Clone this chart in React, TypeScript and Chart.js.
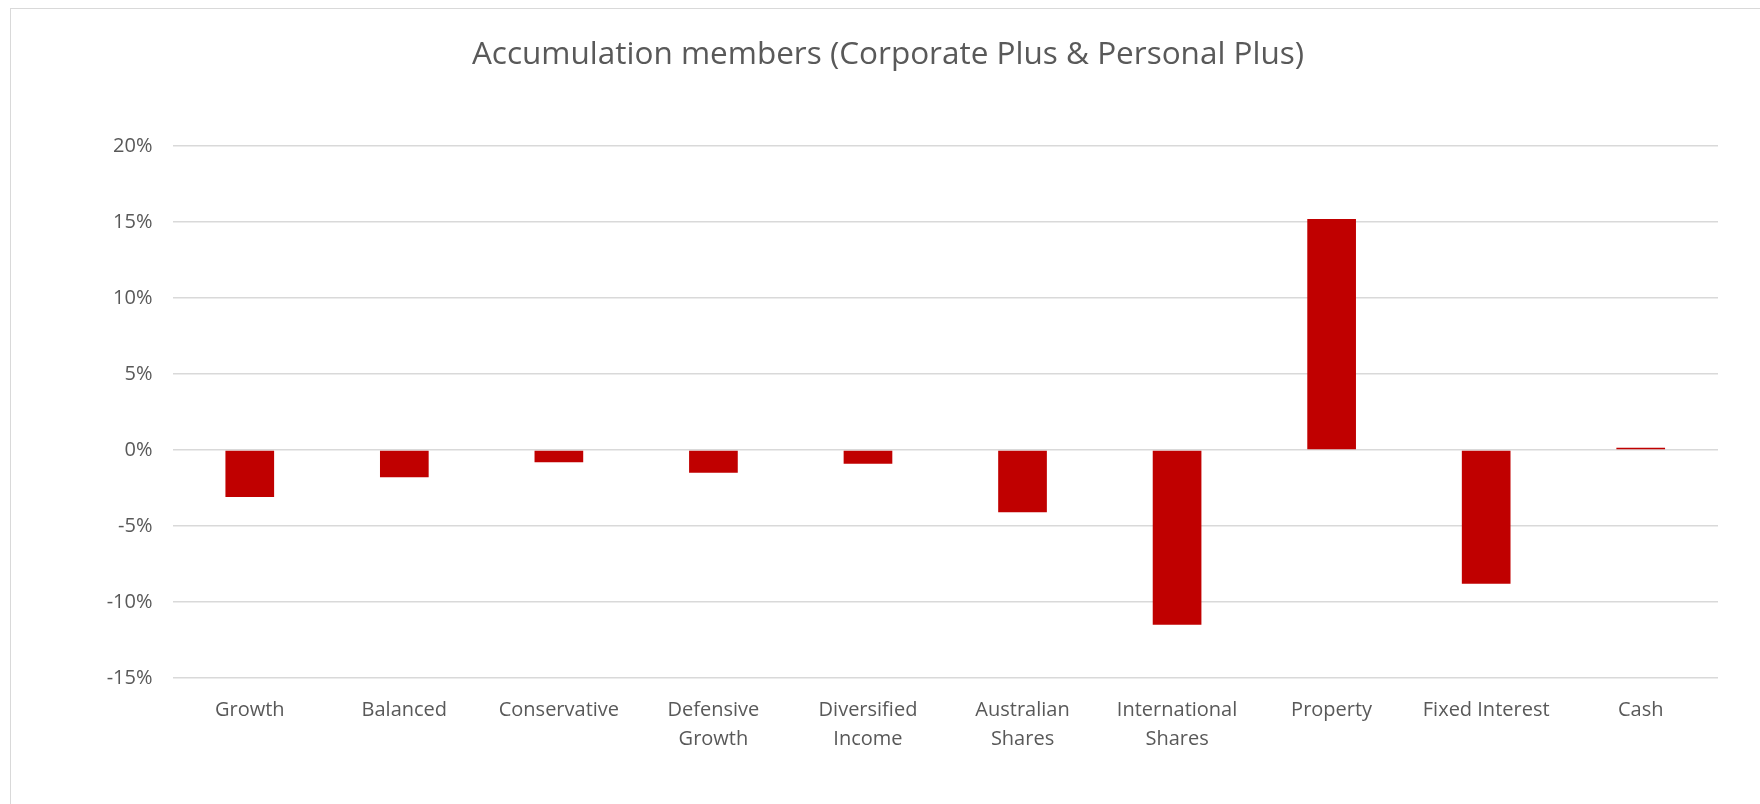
import React, { useEffect, useRef } from "react";
import { Chart, registerables } from "chart.js";

Chart.register(...registerables);

const TITLE = "Accumulation members (Corporate Plus & Personal Plus)";
const categories: (string | string[])[] = [
  "Growth",
  "Balanced",
  "Conservative",
  ["Defensive", "Growth"],
  ["Diversified", "Income"],
  ["Australian", "Shares"],
  ["International", "Shares"],
  "Property",
  "Fixed Interest",
  "Cash",
];
const values: number[] = [-3.1, -1.8, -0.8, -1.5, -0.9, -4.1, -11.5, 15.2, -8.8, 0.15];
const yMin = -15;
const yMax = 20;
const yStep = 5;

const W = 1760;
const H = 804;

export default function App() {
  const ref = useRef<HTMLCanvasElement | null>(null);

  useEffect(() => {
    if (!ref.current) return;
    const font = "'Open Sans', sans-serif";
    const chart = new Chart(ref.current, {
      type: "bar",
      data: {
        labels: categories as any,
        datasets: [
          {
            data: values,
            backgroundColor: "#c00000",
            borderWidth: 0,
            barPercentage: 0.315,
            categoryPercentage: 1,
          },
        ],
      },
      options: {
        animation: false,
        responsive: false,
        layout: { padding: { left: 58, right: 42, top: 0, bottom: 0 } },
        plugins: {
          legend: { display: false },
          tooltip: { enabled: false },
          title: {
            display: true,
            text: TITLE,
            color: "#595959",
            font: { family: font, size: 31.5, weight: "normal", lineHeight: 1.2 },
            padding: { top: 36.5, bottom: 71.7 },
          },
        },
        scales: {
          x: {
            grid: { display: false, drawTicks: false },
            border: { display: false },
            ticks: {
              color: "#595959",
              font: { family: font, size: 20, lineHeight: 1.45 },
              padding: 18,
              maxRotation: 0,
              autoSkip: false,
            },
            afterFit: (s: any) => {
              s.height = 126;
            },
          },
          y: {
            min: yMin,
            max: yMax,
            grid: { color: "#d9d9d9", lineWidth: 1.5, drawTicks: false },
            border: { display: false },
            ticks: {
              stepSize: yStep,
              color: "#595959",
              font: { family: font, size: 20 },
              padding: 20,
              callback: (v: any) => `${v}%`,
            },
            afterFit: (s: any) => {
              s.width = 114.5;
            },
          },
        },
      },
    });
    return () => chart.destroy();
  }, []);

  return (
    <div style={{ position: "absolute", left: 0, top: 0, width: W, height: H, background: "#fff" }}>
      <canvas
        ref={ref}
        width={W}
        height={H}
        style={{ position: "absolute", left: 0, top: 0, width: W, height: H }}
      />
      <div
        style={{
          position: "absolute",
          left: 10,
          top: 8,
          width: W - 10,
          height: H - 8,
          boxSizing: "border-box",
          borderTop: "1.5px solid #d9d9d9",
          borderLeft: "1.5px solid #d9d9d9",
          pointerEvents: "none",
        }}
      />
    </div>
  );
}
